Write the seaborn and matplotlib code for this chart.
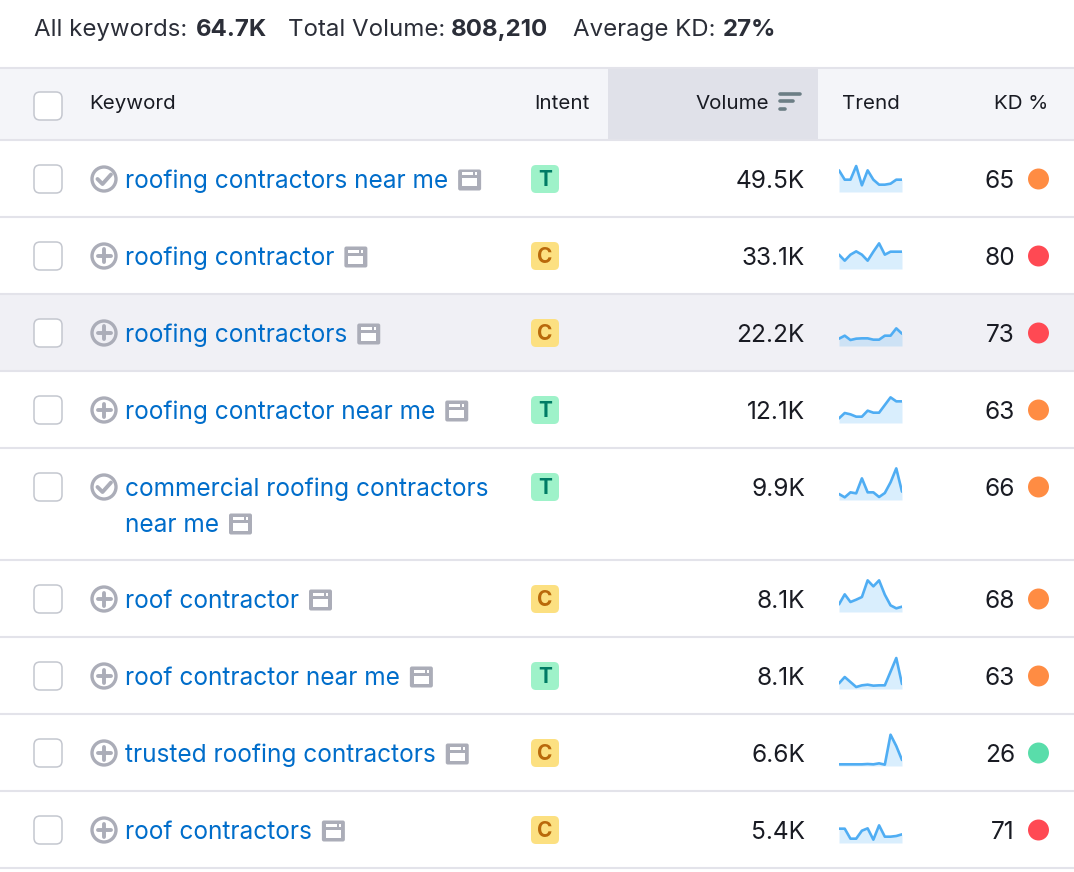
import pandas as pd
import seaborn as sns
import matplotlib.pyplot as plt
from matplotlib.patches import FancyBboxPatch, Rectangle, Circle

# table values
keywords = ['roofing contractors near me', 'roofing contractor', 'roofing contractors',
            'roofing contractor near me', 'commercial roofing contractors\nnear me',
            'roof contractor', 'roof contractor near me', 'trusted roofing contractors',
            'roof contractors']
checked = [True, False, False, False, True, False, False, False, False]
intent = ['T', 'C', 'C', 'T', 'T', 'C', 'T', 'C', 'C']
volume = ['49.5K', '33.1K', '22.2K', '12.1K', '9.9K', '8.1K', '8.1K', '6.6K', '5.4K']
kd = [65, 80, 73, 63, 66, 68, 63, 26, 71]

# sparkline heights, one list per keyword
trend_1 = [65, 37, 37, 78, 20, 65, 37, 22, 22, 25, 37, 37]
trend_2 = [43, 25, 43, 53, 43, 25, 52, 77, 43, 52, 52, 52]
trend_3 = [22, 31, 18, 22, 23, 23, 19, 19, 31, 31, 53, 37]
trend_4 = [14, 30, 26, 19, 19, 37, 31, 31, 54, 77, 65, 65]
trend_5 = [18, 8, 23, 20, 65, 23, 23, 9, 21, 53, 95, 25]
trend_6 = [23, 53, 30, 37, 45, 95, 77, 95, 52, 20, 11, 16]
trend_7 = [17, 36, 21, 6, 11, 13, 10, 11, 11, 52, 93, 15]
trend_8 = [5, 5, 5, 5, 5, 6, 5, 8, 4, 94, 60, 18]
trend_9 = [43, 43, 13, 13, 37, 44, 10, 53, 19, 19, 21, 26]
trends = [trend_1, trend_2, trend_3, trend_4, trend_5, trend_6, trend_7, trend_8, trend_9]

W, H = 1074, 872
sns.set_theme(style='white')
plt.rcParams['font.family'] = ['Inter', 'DejaVu Sans']

fig = plt.figure(figsize=(W / 100, H / 100), dpi=100)
ax = fig.add_axes([0, 0, 1, 1])
ax.set_xlim(0, W)
ax.set_ylim(H, 0)
ax.axis('off')

LINE = '#E3E3EA'
DARK = '#191B23'
BLUE = '#006DCA'
GREY = '#ABADB8'
BODY = 17.6
HEAD = 14.8

# row layout in pixels
row_bot = [217, 294, 371, 448, 560, 637, 714, 791, 868]
row_mid = [179, 256, 333, 410, 487, 599, 676, 753, 830]

# header band
ax.add_patch(Rectangle((0, 68), W, 72, fc='#F4F5F9', ec='none', zorder=0))
ax.add_patch(Rectangle((608, 68), 210, 72, fc='#E0E1E9', ec='none', zorder=0.5))
ax.add_patch(Rectangle((0, 294), W, 77, fc='#F0F0F5', ec='none', zorder=0))
ax.hlines([68, 140] + row_bot, 0, W, color=LINE, lw=1.5, zorder=1)


def checkbox(y):
    ax.add_patch(FancyBboxPatch((38, y - 10), 20, 20, boxstyle='round,pad=4,rounding_size=6',
                                fc='white', ec='#C4C7CF', lw=1.1, zorder=2))


def serp_icon(x, y):
    ax.add_patch(FancyBboxPatch((x, y - 10.5), 23, 21, boxstyle='round,pad=0,rounding_size=2',
                                fc=GREY, ec='none', zorder=2))
    ax.add_patch(Rectangle((x + 4, y - 7.5), 11, 3, fc='white', ec='none', zorder=3))
    ax.add_patch(Rectangle((x + 17, y - 7.5), 2, 3, fc='white', ec='none', zorder=3))
    ax.add_patch(Rectangle((x + 4, y - 1.5), 15, 8, fc='white', ec='none', zorder=3))


# top summary line
summary = [(34, 'All keywords:', 'normal'), (196, '64.7K', 'bold'),
           (288, 'Total Volume:', 'normal'), (451, '808,210', 'bold'),
           (573, 'Average KD:', 'normal'), (723, '27%', 'bold')]
for x, s, w in summary:
    ax.text(x, 30, s, fontsize=17.3, fontweight=w, color='#2B2E38', va='center')

# header
checkbox(106)
ax.text(89, 104, 'Keyword', fontsize=HEAD, color=DARK, va='center')
ax.text(534, 104, 'Intent', fontsize=HEAD, color=DARK, va='center')
ax.text(769, 104, 'Volume', fontsize=HEAD, color=DARK, va='center', ha='right')
ax.text(842, 104, 'Trend', fontsize=HEAD, color=DARK, va='center')
ax.text(1048, 104, 'KD %', fontsize=HEAD, color=DARK, va='center', ha='right')
for y, x2 in zip([94, 101.5, 109], [800, 793, 785]):
    ax.plot([780, x2], [y, y], color='#6C7E85', lw=2.6, solid_capstyle='round', zorder=2)

badge_colors = {'T': ('#9EF2C9', '#007C65'), 'C': ('#FCE081', '#B9690B')}
kd_colors = {'orange': '#FF8C43', 'red': '#FF4953', 'green': '#59DDAA'}

fig.canvas.draw()
rend = fig.canvas.get_renderer()

for i, kw in enumerate(keywords):
    y = row_mid[i]
    checkbox(y)

    # status ring
    ax.add_patch(Circle((104, y), 12, fc='none', ec=GREY, lw=2.4, zorder=2))
    if checked[i]:
        ax.plot([97.5, 102.5, 111], [y, y + 5, y - 4.5], color=GREY, lw=2.8, zorder=2)
    else:
        ax.plot([104, 104], [y - 6.5, y + 6.5], color=GREY, lw=2.8, zorder=2)
        ax.plot([97.5, 110.5], [y, y], color=GREY, lw=2.8, zorder=2)

    # keyword text, wrapped one goes on two lines, serp icon follows the last line
    parts = kw.split('\n')
    for j, part in enumerate(parts):
        t = ax.text(125, y + 2 + j * 36, part, fontsize=BODY, color=BLUE, va='center')
    ext = t.get_window_extent(rend)
    serp_icon(ext.x1 + 10, y + (len(parts) - 1) * 36 + 1)

    # intent badge
    bg, fg = badge_colors[intent[i]]
    ax.add_patch(FancyBboxPatch((535, y - 10), 20, 20, boxstyle='round,pad=4,rounding_size=5',
                                fc=bg, ec='none', zorder=2))
    ax.text(545, y + 0.5, intent[i], fontsize=15, fontweight='bold', color=fg, ha='center',
            va='center', zorder=3)

    ax.text(805, y + 2, volume[i], fontsize=BODY, color=DARK, ha='right', va='center')
    ax.text(1015, y + 2, str(kd[i]), fontsize=BODY, color=DARK, ha='right', va='center')

    # sparkline, 63 px wide, 100 units = 33.3 px
    base = y + 13
    sp = fig.add_axes([839 / W, 1 - base / H, 63 / W, 33.3 / H])
    frame = pd.DataFrame({'month': range(len(trends[i])), 'value': trends[i]})
    sns.lineplot(data=frame, x='month', y='value', color='#4FADF3', lw=1.9, ax=sp)
    sp.fill_between(frame['month'], frame['value'], color='#55B4F7', alpha=0.22, lw=0)
    sp.set_xlim(0, len(trends[i]) - 1)
    sp.set_ylim(0, 100)
    sp.axis('off')


# KD dots
def kd_band(v):
    if v >= 70:
        return 'red'
    if v >= 50:
        return 'orange'
    return 'green'


dots = pd.DataFrame({'x': [1038.5] * len(kd), 'y': row_mid, 'band': [kd_band(v) for v in kd]})
sns.scatterplot(data=dots, x='x', y='y', hue='band', palette=kd_colors, s=228, linewidth=0,
                legend=False, ax=ax, zorder=3)
ax.set_xlim(0, W)
ax.set_ylim(H, 0)

fig.savefig('out.png', dpi=100)
